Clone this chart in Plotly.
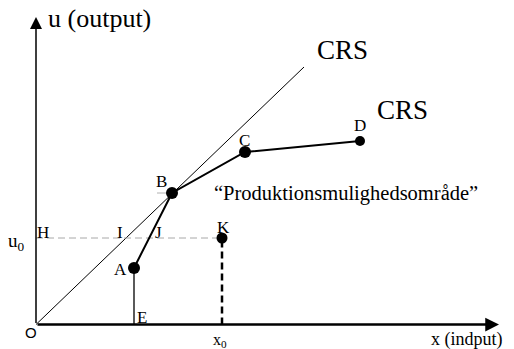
import plotly.graph_objects as go

# ---- data (1 unit = 10 px in the reference) ----
frontier_labels = ["A", "B", "C", "D"]
frontier_x = [9.8, 13.6, 20.9, 32.4]
frontier_y = [5.65, 13.15, 17.25, 18.35]

crs_x = [0.0, 26.8]
crs_y = [0.0, 25.75]

x0_val = 18.6   # x_0
u0_val = 8.65   # u_0

x_axis_end = 46.3
y_axis_end = 30.75

SERIF = "Liberation Serif"

fig = go.Figure()

# CRS ray from origin
fig.add_trace(go.Scatter(x=crs_x, y=crs_y, mode="lines",
                         line=dict(color="black", width=1), hoverinfo="skip"))
# horizontal u0 guide (H ... K)
fig.add_trace(go.Scatter(x=[0, x0_val], y=[u0_val, u0_val], mode="lines",
                         line=dict(color="#a8a8a8", width=1, dash="7px,4px"), hoverinfo="skip"))
# small gray tick left of B
fig.add_trace(go.Scatter(x=[frontier_x[1] - 1.5, frontier_x[1]], y=[frontier_y[1], frontier_y[1]],
                         mode="lines", line=dict(color="#b0b0b0", width=1), hoverinfo="skip"))
# vertical dashed from K down to x axis
fig.add_trace(go.Scatter(x=[x0_val, x0_val], y=[0, u0_val], mode="lines",
                         line=dict(color="black", width=2.5, dash="7px,4px"), hoverinfo="skip"))
# vertical A-E
fig.add_trace(go.Scatter(x=[frontier_x[0], frontier_x[0]], y=[0, frontier_y[0]], mode="lines",
                         line=dict(color="black", width=1.3), hoverinfo="skip"))
# frontier A-B-C-D
fig.add_trace(go.Scatter(x=frontier_x, y=frontier_y, mode="lines",
                         line=dict(color="black", width=2), hoverinfo="skip"))
fig.add_trace(go.Scatter(x=frontier_x[:3], y=frontier_y[:3], mode="markers",
                         marker=dict(color="black", size=12, opacity=1), hoverinfo="skip"))
fig.add_trace(go.Scatter(x=frontier_x[3:], y=frontier_y[3:], mode="markers",
                         marker=dict(color="black", size=10, opacity=1), hoverinfo="skip"))
# point K
fig.add_trace(go.Scatter(x=[x0_val], y=[u0_val], mode="markers",
                         marker=dict(color="black", size=11, opacity=1), hoverinfo="skip"))

# axes with arrows
fig.add_annotation(x=x_axis_end, y=0, ax=0, ay=0, xref="x", yref="y", axref="x", ayref="y",
                   text="", showarrow=True, arrowhead=2, arrowsize=1.1, arrowwidth=2.5,
                   arrowcolor="black")
fig.add_annotation(x=0, y=y_axis_end, ax=0, ay=0, xref="x", yref="y", axref="x", ayref="y",
                   text="", showarrow=True, arrowhead=2, arrowsize=1.6, arrowwidth=1.5,
                   arrowcolor="black")

def label(txt, x, y, size=17, family=SERIF, xanchor="center"):
    fig.add_annotation(x=x, y=y, xref="x", yref="y", text=txt, showarrow=False,
                       xanchor=xanchor, yanchor="middle",
                       font=dict(family=family, size=size, color="black"))

label("u (output)", 1.0, 30.6, size=26, xanchor="left")
label("CRS", 30.6, 27.45, size=27)
label("CRS", 36.6, 21.45, size=27)
label("\u201cProduktionsmulighedsområde\u201d", 31.0, 13.15, size=20.5)
label("A", 8.4, 5.55)
label("B", 12.5, 14.35)
label("C", 20.8, 18.45)
label("D", 32.4, 19.95)
label("H", 0.7, 9.25)
label("I", 8.4, 9.25)
label("J", 12.2, 9.25)
label("K", 18.7, 9.75)
label("E", 10.6, 0.75)
label("O", -0.5, -0.75, size=15, family="Liberation Sans")
label("u<sub>0</sub>", -2.0, 8.25, size=19)
label("x<sub>0</sub>", 18.4, -1.6, size=16)
label("x (indput)", 43.1, -1.45, size=18)

fig.update_layout(
    width=514, height=349,
    margin=dict(l=0, r=0, t=0, b=0),
    paper_bgcolor="white", plot_bgcolor="white",
    showlegend=False,
    xaxis=dict(range=[-3.6, 47.8], visible=False, fixedrange=True),
    yaxis=dict(range=[-2.45, 32.45], visible=False, fixedrange=True),
)

fig.write_html("out.html", config={"displayModeBar": False},
               post_script="document.body.style.margin='0';document.body.style.overflow='hidden';")
